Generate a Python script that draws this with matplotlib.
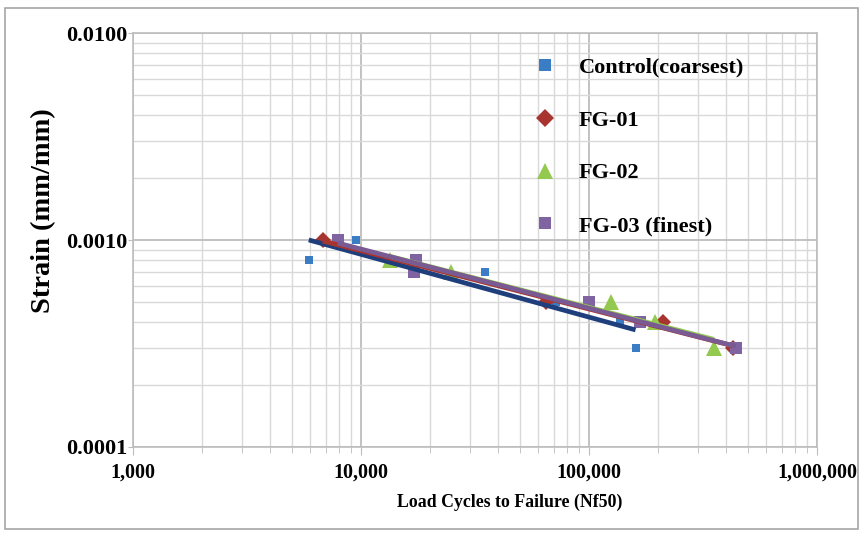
import numpy as np
import matplotlib
matplotlib.use("Agg")
import matplotlib.pyplot as plt
from matplotlib.lines import Line2D
from matplotlib.patches import Rectangle
from matplotlib.ticker import FixedLocator, FuncFormatter, NullFormatter

plt.rcParams['font.family'] = ['Liberation Serif', 'DejaVu Serif']
plt.rcParams['font.weight'] = 'bold'

# data (cycles, strain)
control_n = [5900, 9500, 35000, 72000, 137000, 160000]
control_e = [0.0008, 0.0010, 0.0007, 0.0005, 0.0004, 0.0003]
fg01_n = [6800, 65000, 211000, 430000]
fg01_e = [0.0010, 0.0005, 0.0004, 0.0003]
fg02_n = [13400, 24800, 125000, 195000, 353000]
fg02_e = [0.0008, 0.0007, 0.0005, 0.0004, 0.0003]
fg03_n = [7900, 17500, 17000, 100000, 167000, 440000]
fg03_e = [0.0010, 0.0008, 0.0007, 0.0005, 0.0004, 0.0003]

labels = ['Control(coarsest)', 'FG-01', 'FG-02', 'FG-03 (finest)']
x_ticks = [1e3, 1e4, 1e5, 1e6]
y_ticks = [1e-4, 1e-3, 1e-2]

series = [
    (control_n, control_e, dict(marker='s', color='#3B7DC4', ms=5.5), '#1F3F7C', 8.5),
    (fg01_n, fg01_e, dict(marker='D', color='#A8342F', ms=8), '#A8342F', 9),
    (fg02_n, fg02_e, dict(marker='^', color='#92C94E', ms=11), '#92C94E', 11),
    (fg03_n, fg03_e, dict(marker='s', color='#8064A2', ms=9), '#7A5A93', 9),
]

fig = plt.figure(figsize=(8.65, 5.34), dpi=100)
ax = fig.add_axes([0.1538, 0.163, 0.7907, 0.775])

for n, e, st, lc, lms in series:
    ax.plot(n, e, linestyle='none', marker=st['marker'], color=st['color'],
            markersize=st['ms'], markeredgewidth=0, zorder=3)

# power trendlines, fitted in log space
for n, e, st, lc, lms in series:
    b, a = np.polyfit(np.log10(n), np.log10(e), 1)
    xs = np.array([min(n), max(n)])
    ax.plot(xs, 10 ** (a + b * np.log10(xs)), color=lc, lw=3.4,
            solid_capstyle='butt', zorder=4)

ax.set_xscale('log')
ax.set_yscale('log')
ax.set_xlim(1e3, 1e6)
ax.set_ylim(1e-4, 1e-2)

ax.xaxis.set_major_locator(FixedLocator(x_ticks))
ax.yaxis.set_major_locator(FixedLocator(y_ticks))
ax.xaxis.set_minor_locator(FixedLocator([m * 10 ** k for k in range(3, 6) for m in range(2, 10)]))
ax.yaxis.set_minor_locator(FixedLocator([m * 10.0 ** k for k in range(-4, -2) for m in range(2, 10)]))
ax.xaxis.set_major_formatter(FuncFormatter(lambda v, p: '{:,.0f}'.format(v)))
ax.yaxis.set_major_formatter(FuncFormatter(lambda v, p: '{:.4f}'.format(v)))
ax.xaxis.set_minor_formatter(NullFormatter())
ax.yaxis.set_minor_formatter(NullFormatter())

ax.grid(True, which='major', color='#BDBDBD', lw=1.3, zorder=0)
ax.grid(True, which='minor', color='#D9D9D9', lw=1.0, zorder=0)
ax.set_axisbelow(True)
for s in ax.spines.values():
    s.set_color('#BDBDBD')
    s.set_linewidth(1.2)

ax.tick_params(axis='x', which='major', length=6, color='#BDBDBD',
               labelsize=14.5, pad=5)
ax.tick_params(axis='y', which='major', length=3.5, color='#BDBDBD',
               labelsize=16, pad=0.5)
ax.tick_params(axis='x', which='minor', length=4, color='#BDBDBD')
ax.tick_params(axis='y', which='minor', length=0)
for t in ax.get_xticklabels() + ax.get_yticklabels():
    t.set_fontweight('bold')

ax.set_xlabel('Load Cycles to Failure (Nf50)', fontsize=12.8, fontweight='bold')
ax.xaxis.set_label_coords(0.551, -0.112)
ax.set_ylabel('Strain (mm/mm)', fontsize=20.5, fontweight='bold')
ax.yaxis.set_label_coords(-0.113, 0.570)

handles = [Line2D([], [], linestyle='none', marker=st['marker'], color=st['color'],
                  markersize=lms, markeredgewidth=0) for n, e, st, lc, lms in series]
leg = ax.legend(handles, labels, loc='upper left', bbox_to_anchor=(0.54, 0.99),
                frameon=False, labelspacing=1.45, handletextpad=0.55,
                prop=dict(family='Liberation Serif', weight='bold', size=16))

fig.patches.append(Rectangle((0.006, 0.01), 0.986, 0.975, transform=fig.transFigure,
                             fill=False, edgecolor='#A6A6A6', lw=1.2))

fig.savefig('out.png', dpi=100)
